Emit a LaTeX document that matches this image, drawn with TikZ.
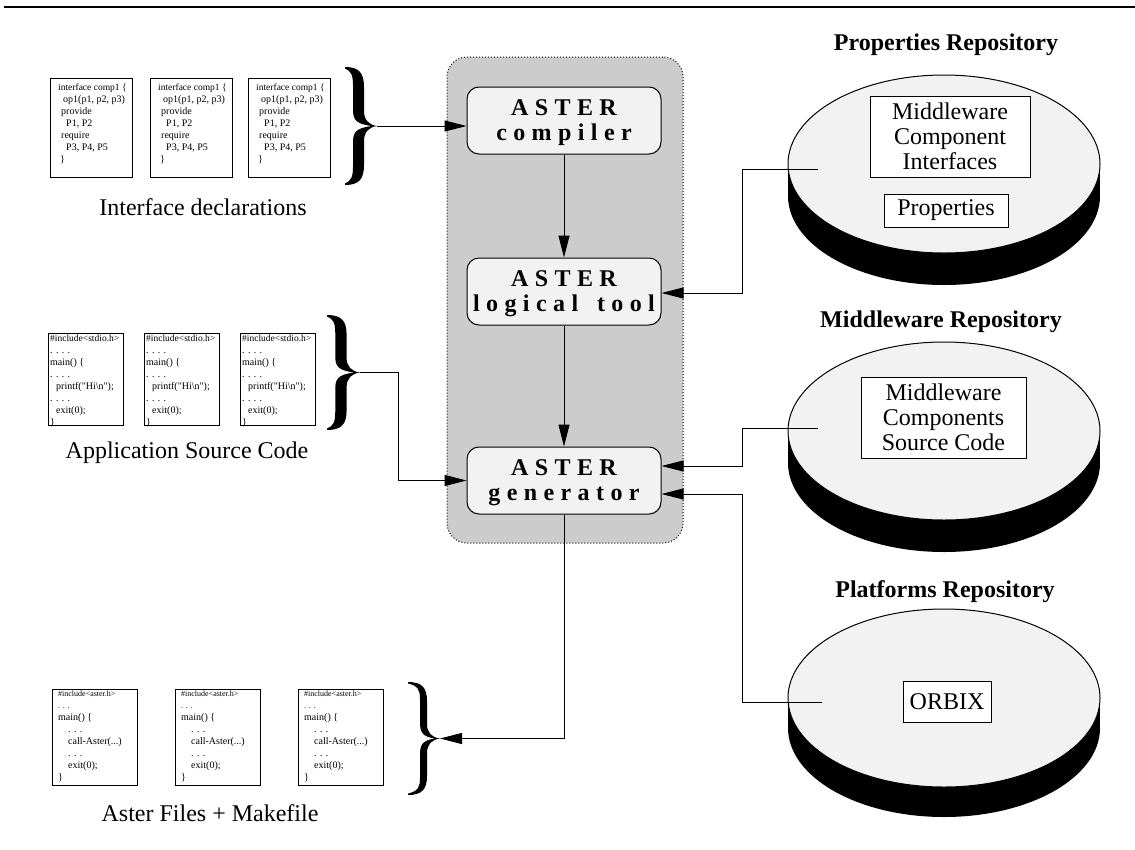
\documentclass[tikz,border=0pt]{standalone}
\usepackage{fontspec}
\setmainfont{Liberation Serif}
\usetikzlibrary{arrows.meta,calc,shapes.geometric}
\definecolor{panelgray}{HTML}{CCCCCC}
\definecolor{lightgray}{HTML}{F2F2F2}
% letter-spaced text
\def\spaced#1{\spacedloop#1\spacedend\unkern}
\def\spacedloop#1{\ifx#1\spacedend\else#1\kern6.4pt\expandafter\spacedloop\fi}
\def\spacedend{}
\tikzset{
  arr/.style={-{Triangle[length=22pt,width=11pt]}, line width=1pt},
  panel/.style={draw, dotted, line width=1pt, fill=panelgray, rounded corners=20pt},
  tool/.style={draw, line width=1pt, fill=lightgray, rounded corners=12pt,
    minimum width=194pt, minimum height=67pt, align=center, inner sep=0pt,
    text depth=0pt, font=\bfseries\fontsize{24}{25}\selectfont},
  codebox/.style={draw, line width=1pt, inner sep=0pt},
  codetext/.style={anchor=north west, align=left, inner sep=0pt},
  caption/.style={inner sep=0pt, font=\fontsize{24}{26}\selectfont},
  repotitle/.style={inner sep=0pt, font=\bfseries\fontsize{24}{26}\selectfont},
  repotop/.style={ellipse, draw, line width=1pt, fill=lightgray,
    minimum width=312pt, minimum height=178pt, inner sep=0pt},
  reposhadow/.style={ellipse, fill=black, minimum width=312pt, minimum height=178pt, inner sep=0pt},
  inbox/.style={draw, line width=0.8pt, fill=white, align=center, inner sep=0pt,
    font=\fontsize{24}{25}\selectfont}
}
% curly brace drawn as a filled outline: name, left x, top y, width, height, stroke thickness
\newcommand\curly[6]{%
\begin{scope}[shift={(#2,#3)}, xscale=#4/32, yscale=#5/118]
\fill (0,0) .. controls (14,0) and (19,6) .. (19,20) -- (19,44)
  .. controls (19,53) and (24,58) .. (32,59)
  .. controls (24,60) and (19,65) .. (19,74) -- (19,98)
  .. controls (19,112) and (14,118) .. (0,118) -- (0,116.5)
  .. controls ({17-#6},114) and ({19-#6},110) .. ({19-#6},100) -- ({19-#6},76)
  .. controls ({19-#6},66) and ({21-#6},61) .. (27,59)
  .. controls ({21-#6},57) and ({19-#6},52) .. ({19-#6},42) -- ({19-#6},18)
  .. controls ({19-#6},8) and ({17-#6},4) .. (0,1.5) -- cycle;
\coordinate (#1) at (32,59);
\end{scope}}
\newcommand\ifacetext{\fontsize{9.5}{12.2}\selectfont
interface comp1 \{\\
\hspace*{5pt}op1(p1, p2, p3)\\
\hspace*{3pt}provide\\
\hspace*{8pt}P1, P2\\
\hspace*{3pt}require\\
\hspace*{8pt}P3, P4, P5\\
\hspace*{2pt}\}}
\newcommand\apptext{\fontsize{9.5}{11}\selectfont
\#include<stdio.h>\\
. . . .\\
main() \{\\
. . . .\\
\hspace*{6pt}printf(\textquotedbl Hi\textbackslash n\textquotedbl);\\
. . . .\\
\hspace*{6pt}exit(0);\\
\}}
\newcommand\astertext{\fontsize{9.5}{10.7}\selectfont
{\fontsize{8}{10.7}\selectfont\#include<aster.h>}\\
{\fontsize{8}{10.7}\selectfont. . .}\\
main() \{\\
\hspace*{10pt}. . .\\
\hspace*{10pt}call-Aster(...)\\
\hspace*{10pt}. . .\\
\hspace*{10pt}exit(0);\\
\}}
\begin{document}
\begin{tikzpicture}[x=1pt,y=-1pt]
\useasboundingbox (0,0) rectangle (1135,849);
% top rule
\draw[line width=2.2pt] (4,7) -- (1135,7);

% central panel
\node[panel, minimum width=236pt, minimum height=486pt] (panel) at (565,300) {};
\node[tool] (comp) at (564,120.5) {\spaced{ASTER}\\\spaced{compiler}};
\node[tool] (logic) at (564,291.5) {\spaced{ASTER}\\\spaced{logical~tool}};
\node[tool] (gen) at (564,480.5) {\spaced{ASTER}\\\spaced{generator}};
\draw[arr] (comp) -- (logic);
\draw[arr] (logic) -- (gen);

% interface declarations
\foreach \n/\x in {1/50,2/150,3/248}{
  \node[codebox, anchor=north west, minimum width=82pt, minimum height=99pt] (i\n) at (\x,78) {};
  \node[codetext] (i\n t) at ($(i\n.north west)+(8,6)$) {\ifacetext};
}
\curly{bi}{345}{67}{32}{118}{11}
\node[caption] (ci) at (203,207) {Interface declarations};

% application source code
\foreach \n/\x in {1/48,2/144,3/240}{
  \node[codebox, anchor=north west, minimum width=75pt, minimum height=92pt] (a\n) at (\x,333) {};
  \node[codetext] (a\n t) at ($(a\n.north west)+(2,2)$) {\apptext};
}
\curly{ba}{327}{315}{33}{115}{11}
\node[caption] (ca) at (187,453) {Application Source Code};

% aster files
\foreach \n/\x in {1/52,2/175,3/298}{
  \node[codebox, anchor=north west, minimum width=85pt, minimum height=96pt] (f\n) at (\x,689) {};
  \node[codetext] (f\n t) at ($(f\n.north west)+(6,2)$) {\astertext};
}
\curly{bf}{408}{682}{32}{113}{7}
\node[caption] (cf) at (210,813) {Aster Files + Makefile};

% connectors on the left
\draw[arr] (bi) -- (bi -| comp.west);
\draw[arr] (ba) -- ++(38,0) |- (gen.west);
\draw[arr] (gen.south) |- (bf);

% repositories
\node[repotitle] (tprop) at (946,45) {Properties Repository};
\node[reposhadow] (propS) at (944,196) {};
\fill (propS.west) rectangle ($(propS.east)+(0,-32)$);
\node[repotop] (prop) at (944,164) {};
\node[inbox, minimum width=160pt, minimum height=81pt] (propMCI) at (950,136.5) {Middleware\\Component\\Interfaces};
\node[inbox, minimum width=124pt, minimum height=33pt] (propP) at (946,210.5) {Properties};

\node[repotitle] (tmid) at (941,322) {Middleware Repository};
\node[reposhadow] (midS) at (944,463) {};
\fill (midS.west) rectangle ($(midS.east)+(0,-32)$);
\node[repotop] (mid) at (944,431) {};
\node[inbox, minimum width=165pt, minimum height=81pt] (midMCS) at (943.5,417.5) {Middleware\\Components\\Source Code};

\node[repotitle] (tplat) at (945,592) {Platforms Repository};
\node[reposhadow] (platS) at (944,728) {};
\fill (platS.west) rectangle ($(platS.east)+(0,-30)$);
\node[repotop] (plat) at (944,698) {};
\node[inbox, minimum width=88pt, minimum height=41pt] (platO) at (947,701.5) {ORBIX};

% connectors on the right
\coordinate (p1) at (818,169);
\coordinate (p2) at (818,428);
\coordinate (p3) at (822,702);
\draw[arr] (p1) -- (742,169) |- ([yshift=-1.5pt]logic.east);
\draw[arr] (p2) -- (742,428) |- ([yshift=14.5pt]gen.east);
\draw[arr] (p3) -- (742,702) |- ([yshift=-13.5pt]gen.east);
\end{tikzpicture}
\end{document}
